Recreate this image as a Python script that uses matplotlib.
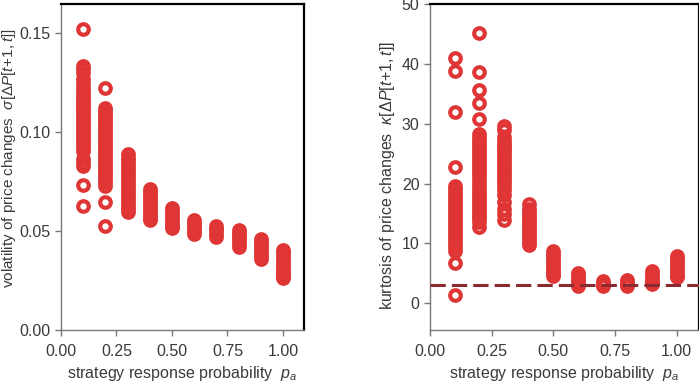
import matplotlib
matplotlib.use("Agg")
import matplotlib.pyplot as plt

plt.rcParams['font.family'] = ['Liberation Sans', 'DejaVu Sans']
plt.rcParams['mathtext.fontset'] = 'custom'
plt.rcParams['mathtext.rm'] = 'Liberation Sans'
plt.rcParams['mathtext.it'] = 'Liberation Sans:italic'

# strategy response probabilities
p_values = [0.1, 0.2, 0.3, 0.4, 0.5, 0.6, 0.7, 0.8, 0.9, 1.0]

# volatility sigma[dP] for each p (one list per column)
vol_01 = [0.1524, 0.1335, 0.1321, 0.1300, 0.1271, 0.1250, 0.1229, 0.1210, 0.1195, 0.1180,
          0.1165, 0.1150, 0.1135, 0.1120, 0.1105, 0.1090, 0.1075, 0.1060, 0.1045, 0.1030,
          0.1015, 0.1000, 0.0985, 0.0970, 0.0955, 0.0942, 0.0925, 0.0905, 0.0864, 0.0845,
          0.0828, 0.0732, 0.0628]
vol_02 = [0.1224, 0.1124, 0.1108, 0.1090, 0.1075, 0.1066, 0.1050, 0.1035, 0.1020, 0.1005,
          0.0990, 0.0975, 0.0960, 0.0945, 0.0930, 0.0915, 0.0900, 0.0885, 0.0870, 0.0855,
          0.0840, 0.0825, 0.0810, 0.0795, 0.0780, 0.0765, 0.0748, 0.0729, 0.0645, 0.0525]
vol_03 = [0.0891, 0.0872, 0.0855, 0.0838, 0.0822, 0.0807, 0.0792, 0.0777, 0.0762, 0.0747,
          0.0732, 0.0717, 0.0702, 0.0687, 0.0672, 0.0657, 0.0642, 0.0627, 0.0612, 0.0598]
vol_04 = [0.0715, 0.0700, 0.0685, 0.0670, 0.0655, 0.0640, 0.0625, 0.0610, 0.0595, 0.0580,
          0.0568, 0.0558]
vol_05 = [0.0615, 0.0600, 0.0585, 0.0570, 0.0555, 0.0540, 0.0528, 0.0518]
vol_06 = [0.0557, 0.0543, 0.0528, 0.0514, 0.0500, 0.0485]
vol_07 = [0.0525, 0.0511, 0.0498, 0.0484, 0.0471]
vol_08 = [0.0506, 0.0492, 0.0478, 0.0463, 0.0449, 0.0434, 0.0420]
vol_09 = [0.0462, 0.0448, 0.0433, 0.0419, 0.0404, 0.0390, 0.0375, 0.0361]
vol_10 = [0.0405, 0.0392, 0.0378, 0.0364, 0.0350, 0.0336, 0.0322, 0.0308, 0.0295, 0.0282,
          0.0270, 0.0263]
volatility = [vol_01, vol_02, vol_03, vol_04, vol_05, vol_06, vol_07, vol_08, vol_09, vol_10]

# kurtosis kappa[dP] for each p
kurt_01 = [41.0, 38.8, 32.0, 22.8, 19.6, 19.1, 18.6, 18.1, 17.6, 17.1, 16.6, 16.1, 15.6,
           15.1, 14.6, 14.1, 13.6, 13.1, 12.6, 12.1, 11.6, 11.1, 10.5, 9.9, 9.4, 8.7, 6.7, 1.4]
kurt_02 = [45.2, 38.7, 35.6, 33.4, 30.8, 28.3, 27.6, 27.1, 26.6, 26.1, 25.6, 25.1, 24.6,
           24.1, 23.6, 23.1, 22.6, 22.1, 21.6, 21.1, 20.5, 19.7, 19.1, 18.6, 18.1, 17.6,
           17.1, 16.6, 16.1, 15.6, 15.1, 14.6, 14.2, 13.6, 12.8]
kurt_03 = [29.6, 28.9, 27.8, 27.2, 26.7, 26.2, 25.7, 25.2, 24.7, 24.2, 23.7, 23.2, 22.7,
           22.2, 21.7, 21.2, 20.7, 20.2, 19.6, 18.9, 18.1, 17.0, 15.8, 15.0, 13.9]
kurt_04 = [16.6, 15.8, 15.3, 14.8, 14.3, 13.8, 13.3, 12.8, 12.3, 11.8, 11.3, 10.8, 10.3, 9.8]
kurt_05 = [8.8, 8.3, 7.8, 7.3, 6.8, 6.3, 5.8, 5.3, 4.9, 4.5]
kurt_06 = [5.1, 4.6, 4.1, 3.7, 3.3, 2.9]
kurt_07 = [3.8, 3.4, 3.0, 2.9]
kurt_08 = [3.9, 3.5, 3.1, 2.9]
kurt_09 = [5.4, 4.9, 4.4, 3.9, 3.5, 3.3]
kurt_10 = [7.9, 7.5, 7.0, 6.5, 6.0, 5.5, 5.0, 4.6, 4.4]
kurtosis = [kurt_01, kurt_02, kurt_03, kurt_04, kurt_05, kurt_06, kurt_07, kurt_08, kurt_09, kurt_10]

gaussian_kurtosis = 3.0

x_ticks = [0.0, 0.25, 0.5, 0.75, 1.0]
x_ticklabels = ["0.00", "0.25", "0.50", "0.75", "1.00"]
vol_ticks = [0.0, 0.05, 0.10, 0.15]
vol_ticklabels = ["0.00", "0.05", "0.10", "0.15"]
kurt_ticks = [0, 10, 20, 30, 40, 50]
kurt_ticklabels = ["0", "10", "20", "30", "40", "50"]

RED = '#DF3535'
TEXT = '#3a3a3a'
W, H = 699, 382
fig = plt.figure(figsize=(W / 100, H / 100), dpi=100)

ax1 = fig.add_axes([61 / W, 1 - 330 / H, (304 - 61) / W, (330 - 4) / H])
ax2 = fig.add_axes([430 / W, 1 - 330 / H, (699 - 430) / W, (330 - 4) / H])


def scatter_columns(ax, columns):
    for p, vals in zip(p_values, columns):
        ax.plot([p] * len(vals), vals, linestyle='none', marker='o',
                markersize=7.6, markeredgewidth=3.0, markerfacecolor='none',
                markeredgecolor=RED, zorder=2)


def style(ax):
    for side in ['top', 'right']:
        ax.spines[side].set_color('black')
        ax.spines[side].set_linewidth(1.6)
    for side in ['left', 'bottom']:
        ax.spines[side].set_color('#777777')
        ax.spines[side].set_linewidth(1.0)
    ax.tick_params(axis='both', which='both', direction='out', length=4, width=1,
                   color='#777777', labelcolor=TEXT, labelsize=11.5,
                   top=False, right=False)
    ax.tick_params(axis='x', pad=6)
    ax.tick_params(axis='y', pad=3.5)


scatter_columns(ax1, volatility)
ax1.set_xlim(0, 1.095)
ax1.set_ylim(0, 0.1648)
ax1.set_xticks(x_ticks)
ax1.set_xticklabels(x_ticklabels)
ax1.set_yticks(vol_ticks)
ax1.set_yticklabels(vol_ticklabels)
style(ax1)
ax1.set_xlabel(r"strategy response probability  $p_a$", fontsize=11.5, color=TEXT)
ax1.xaxis.set_label_coords(0.5, -0.103)
ax1.set_ylabel(r"volatility of price changes  $\sigma[\Delta P[t\!+\!1,t]]$", fontsize=11,
               color=TEXT)
ax1.yaxis.set_label_coords(-0.178, 0.527)

scatter_columns(ax2, kurtosis)
ax2.axhline(gaussian_kurtosis, color='#8B2A2E', linewidth=2.2, dashes=(5, 2), zorder=3)
ax2.set_xlim(0, 1.09)
ax2.set_ylim(-4.45, 49.9)
ax2.set_xticks(x_ticks)
ax2.set_xticklabels(x_ticklabels)
ax2.set_yticks(kurt_ticks)
ax2.set_yticklabels(kurt_ticklabels)
style(ax2)
ax2.set_xlabel(r"strategy response probability  $p_a$", fontsize=11.5, color=TEXT)
ax2.xaxis.set_label_coords(0.5, -0.103)
ax2.set_ylabel(r"kurtosis of price changes  $\kappa[\Delta P[t\!+\!1,t]]$", fontsize=11.5,
               color=TEXT)
ax2.yaxis.set_label_coords(-0.123, 0.475)

fig.savefig("out.png", dpi=100)
